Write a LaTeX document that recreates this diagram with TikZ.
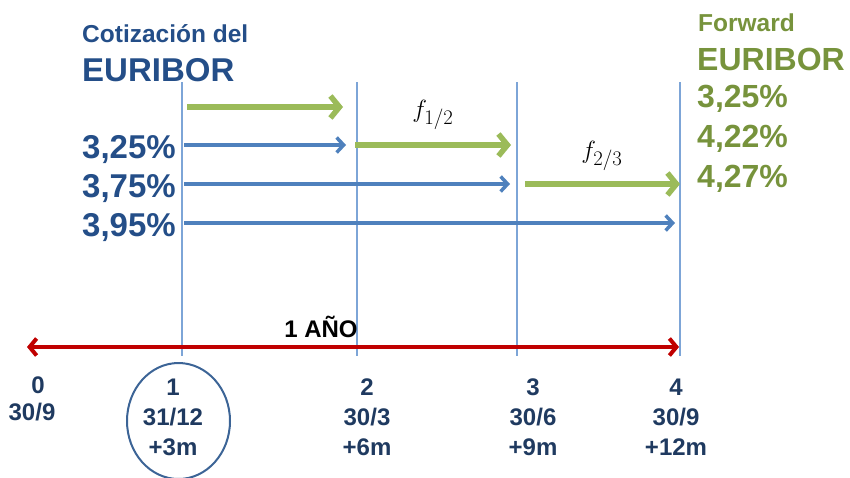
\documentclass[tikz,border=0pt]{standalone}
\usepackage{fontspec}
\setmainfont{Liberation Sans}
\usetikzlibrary{arrows.meta}
\definecolor{navy}{RGB}{36,78,136}
\definecolor{datec}{RGB}{31,58,96}
\definecolor{olive}{RGB}{119,147,60}
\definecolor{grn}{RGB}{155,187,89}
\definecolor{blu}{RGB}{79,129,189}
\definecolor{vline}{RGB}{125,165,215}
\definecolor{redc}{RGB}{192,0,0}
\definecolor{ellc}{RGB}{60,100,150}
\begin{document}
\begin{tikzpicture}[x=1pt,y=-1pt,
  lefttxt/.style={anchor=west,inner sep=0pt,text=navy,font=\bfseries},
  righttxt/.style={anchor=west,inner sep=0pt,text=olive,font=\bfseries},
  datetxt/.style={inner sep=0pt,text=datec,font=\fontsize{24}{28}\selectfont\bfseries},
  vl/.style={draw=vline,line width=1.3pt},
  garrow/.style={draw=grn,line width=5.5pt,-{Straight Barb[length=9pt,width=22pt,line width=5.5pt]}},
  barrow/.style={draw=blu,line width=3.5pt,-{Straight Barb[length=7pt,width=15pt,line width=3.5pt]}},
  rarrow/.style={draw=redc,line width=4pt,{Straight Barb[length=7pt,width=17pt,line width=4pt]}-{Straight Barb[length=7pt,width=17pt,line width=4pt]}},
  ftxt/.style={inner sep=0pt,font=\fontsize{28}{32}\selectfont}]
\useasboundingbox (0,0) rectangle (850,477);
\clip (0,0) rectangle (850,477);

% vertical guide lines
\coordinate (t1) at (182,82);  \coordinate (b1) at (182,356);
\coordinate (t2) at (357,82);  \coordinate (b2) at (357,356);
\coordinate (t3) at (517,82);  \coordinate (b3) at (517,356);
\coordinate (t4) at (680,82);  \coordinate (b4) at (680,356);
\draw[vl] (t1) -- (b1);
\draw[vl] (t2) -- (b2);
\draw[vl] (t3) -- (b3);
\draw[vl] (t4) -- (b4);

% time axis
\coordinate (a0) at (27,347);
\coordinate (a4) at (679,347);
\draw[rarrow] (a0) -- (a4);
\node[inner sep=0pt,font=\fontsize{24}{28}\selectfont\bfseries] (anio) at (321,327) {1 AÑO};

% left titles
\node[lefttxt,font=\fontsize{24.5}{28}\selectfont\bfseries] (cot) at (82,34) {Cotización del};
\node[lefttxt,font=\fontsize{33}{38}\selectfont\bfseries] (eurl) at (82,70) {EURIBOR};
\node[lefttxt,font=\fontsize{33}{38}\selectfont\bfseries] (r1) at (82,150) {3,25\%};
\node[lefttxt,font=\fontsize{33}{38}\selectfont\bfseries] (r2) at (82,189) {3,75\%};
\node[lefttxt,font=\fontsize{33}{38}\selectfont\bfseries] (r3) at (82,228) {3,95\%};

% right titles
\node[righttxt,font=\fontsize{24.5}{28}\selectfont\bfseries] (fwd) at (698,23) {Forward};
\node[righttxt,font=\fontsize{32}{36}\selectfont\bfseries] (eurr) at (697,59) {EURIBOR};
\node[righttxt,font=\fontsize{32}{36}\selectfont\bfseries] (g1) at (697,99) {3,25\%};
\node[righttxt,font=\fontsize{32}{36}\selectfont\bfseries] (g2) at (697,139) {4,22\%};
\node[righttxt,font=\fontsize{32}{36}\selectfont\bfseries] (g3) at (697,179) {4,27\%};

% arrows
\coordinate (ga1s) at (187,107); \coordinate (ga1e) at (343,107);
\coordinate (ga2s) at (355,145); \coordinate (ga2e) at (511,145);
\coordinate (ga3s) at (525,184); \coordinate (ga3e) at (680,184);
\coordinate (ba1s) at (184,145); \coordinate (ba1e) at (346,145);
\coordinate (ba2s) at (184,184); \coordinate (ba2e) at (510,184);
\coordinate (ba3s) at (184,223); \coordinate (ba3e) at (675,223);
\draw[garrow] (ga1s) -- (ga1e);
\draw[garrow] (ga2s) -- (ga2e);
\draw[garrow] (ga3s) -- (ga3e);
\draw[barrow] (ba1s) -- (ba1e);
\draw[barrow] (ba2s) -- (ba2e);
\draw[barrow] (ba3s) -- (ba3e);

\node[ftxt] (f12) at (433,115) {$f_{1/2}$};
\node[ftxt] (f23) at (602,156) {$f_{2/3}$};

% dates
\node[datetxt] (d0a) at (38,385) {0};
\node[datetxt] (d0b) at (32,412) {30/9};

\node[datetxt] (d1a) at (173,387) {1};
\node[datetxt] (d1b) at (173,417) {31/12};
\node[datetxt] (d1c) at (173,447) {+3m};

\node[datetxt] (d2a) at (367,387) {2};
\node[datetxt] (d2b) at (367,417) {30/3};
\node[datetxt] (d2c) at (367,447) {+6m};

\node[datetxt] (d3a) at (533,387) {3};
\node[datetxt] (d3b) at (533,417) {30/6};
\node[datetxt] (d3c) at (533,447) {+9m};

\node[datetxt] (d4a) at (676,387) {4};
\node[datetxt] (d4b) at (676,417) {30/9};
\node[datetxt] (d4c) at (676,447) {+12m};

\draw[draw=ellc,line width=2pt] (178.5,421) ellipse [x radius=51.5, y radius=58];
\end{tikzpicture}
\end{document}
